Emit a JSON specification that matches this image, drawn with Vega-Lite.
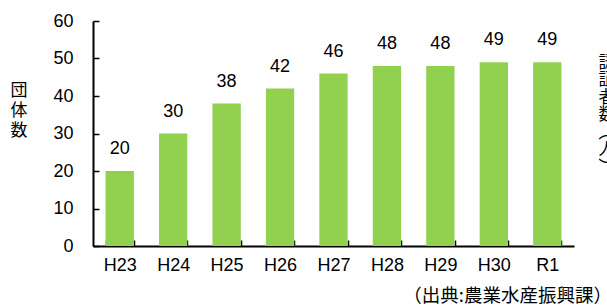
{
  "$schema": "https://vega.github.io/schema/vega-lite/v6.json",
  "width": 481,
  "height": 225,
  "autosize": {"type": "none"},
  "padding": {"left": 93, "top": 21, "right": 33, "bottom": 59},
  "background": "white",
  "config": {
    "view": {"stroke": null},
    "font": "Liberation Sans, Noto Sans CJK JP",
    "axis": {"labelFont": "Liberation Sans, Noto Sans CJK JP", "titleFont": "Noto Sans CJK JP, Liberation Sans"}
  },
  "title": {
    "text": "（出典:農業水産振興課）",
    "orient": "bottom",
    "anchor": "end",
    "frame": "group",
    "font": "Noto Sans CJK JP",
    "fontSize": 18.5,
    "fontWeight": "normal",
    "color": "black",
    "dx": 38,
    "offset": 13
  },
  "data": {
    "values": [
      {"year": "H23", "count": 20},
      {"year": "H24", "count": 30},
      {"year": "H25", "count": 38},
      {"year": "H26", "count": 42},
      {"year": "H27", "count": 46},
      {"year": "H28", "count": 48},
      {"year": "H29", "count": 48},
      {"year": "H30", "count": 49},
      {"year": "R1", "count": 49}
    ]
  },
  "encoding": {
    "x": {
      "field": "year",
      "type": "nominal",
      "sort": null,
      "scale": {"paddingInner": 0.47, "paddingOuter": 0.235},
      "axis": {
        "title": null,
        "labelAngle": 0,
        "labelFontSize": 18,
        "labelColor": "black",
        "labelPadding": 16,
        "domainColor": "black",
        "domainWidth": 2,
        "tickColor": "black",
        "tickWidth": 1.5,
        "tickSize": -6,
        "tickBand": "extent"
      }
    }
  },
  "layer": [
    {
      "mark": {"type": "bar", "color": "#92D050"},
      "encoding": {
        "y": {
          "field": "count",
          "type": "quantitative",
          "scale": {"domain": [0, 60], "nice": false},
          "axis": {
            "values": [0, 10, 20, 30, 40, 50, 60],
            "grid": false,
            "labelFontSize": 18,
            "labelColor": "black",
            "labelPadding": 26,
            "domainColor": "black",
            "domainWidth": 2,
            "tickColor": "black",
            "tickWidth": 1.5,
            "tickSize": -6,
            "title": ["団", "体", "数"],
            "titleAngle": 0,
            "titleFontSize": 17,
            "titleFontWeight": "normal",
            "titleColor": "black",
            "titleLineHeight": 20,
            "titleAlign": "center",
            "titleBaseline": "middle",
            "titleX": -74.5,
            "titleY": 69
          }
        }
      }
    },
    {
      "mark": {"type": "text", "fontSize": 18, "color": "black", "baseline": "alphabetic", "dy": -17},
      "encoding": {
        "y": {"field": "count", "type": "quantitative", "axis": null},
        "text": {"field": "count", "type": "quantitative"}
      }
    },
    {
      "mark": {"type": "rule", "opacity": 0},
      "encoding": {
        "y": {
          "field": "count",
          "type": "quantitative",
          "axis": {
            "orient": "right",
            "values": [],
            "labels": false,
            "ticks": false,
            "domain": false,
            "grid": false,
            "title": ["認", "証", "者", "数", "︵", "人", "︶"],
            "titleAngle": 0,
            "titleFontSize": 17,
            "titleFontWeight": "normal",
            "titleColor": "black",
            "titleLineHeight": 17.5,
            "titleAlign": "center",
            "titleBaseline": "middle",
            "titleX": 32.5,
            "titleY": 41
          }
        }
      }
    }
  ],
  "resolve": {"axis": {"y": "independent"}}
}
